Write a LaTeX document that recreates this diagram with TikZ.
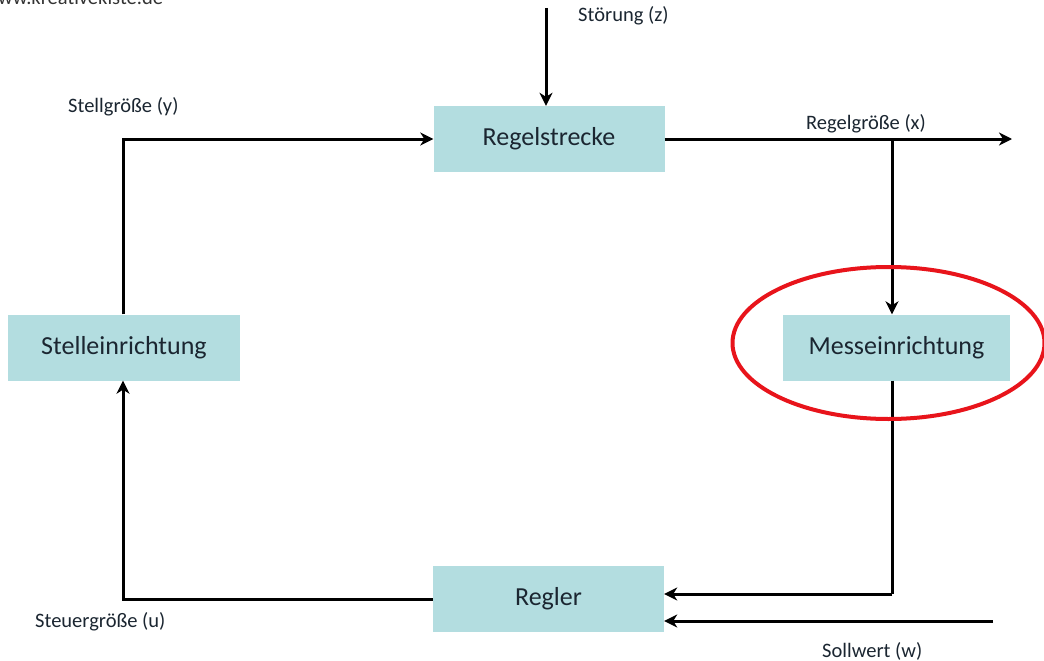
\documentclass[tikz,border=0pt]{standalone}
\usepackage{fontspec}
\setmainfont{Carlito}
\usetikzlibrary{arrows.meta}
\definecolor{boxfill}{HTML}{B3DDE0}
\definecolor{ink}{HTML}{1B2631}
\definecolor{ring}{HTML}{E8141B}
\tikzset{
  block/.style={fill=boxfill, draw=none, minimum width=231pt, minimum height=66pt,
    inner sep=0pt, text=ink, font=\fontsize{26}{30}\selectfont},
  lbl/.style={text=ink, font=\fontsize{20.5}{24}\selectfont, inner sep=0pt},
  flow/.style={line width=3pt, draw=black,
    -{Stealth[length=13pt,width=13pt,inset=4pt]}},
  plain/.style={line width=3pt, draw=black},
}
\begin{document}
\begin{tikzpicture}[x=1pt,y=-1pt]
\useasboundingbox (0,0) rectangle (1044,661);
\fill[white] (0,0) rectangle (1044,661);

% site mark, cut by the top edge
\node[lbl, anchor=base west, text=black!80] (site) at (-2,5) {ww.kreativekiste.de};

% blocks
\node[block] (strecke) at (549,139) {Regelstrecke};
\node[block, minimum width=232pt] (stell) at (124,347.5) {Stelleinrichtung};
\node[block, minimum width=227pt] (mess) at (896.5,347.5) {Messeinrichtung};
\node[block] (regler) at (548.5,599) {Regler};

% helper points
\coordinate (zin) at (546,8);
\coordinate (xout) at (1012,139);
\coordinate (branch) at (892,139);
\coordinate (wsrc) at (993,621);
\coordinate (fb) at (892,594);

% Stoergroesse
\draw[flow] (zin) -- (zin |- strecke.north);
% Stellgroesse
\draw[flow] (stell.north -| 123,0) |- (strecke.west);
% Regelgroesse
\draw[flow] (strecke.east) -- (xout);
\draw[flow] (branch) -- (branch |- mess.north);
% Rueckfuehrung
\draw[plain] (mess.south -| branch) -- (fb);
\draw[flow] (fb) -- (fb -| regler.east);
% Sollwert
\draw[flow] (wsrc) -- (wsrc -| regler.east);
% Steuergroesse
\draw[flow] (regler.west) -| (stell.south -| 123,0);

% labels
\node[lbl, anchor=west] (lz) at (578,16) {Störung (z)};
\node[lbl, anchor=west] (ly) at (68,107) {Stellgröße (y)};
\node[lbl, anchor=west] (lx) at (806,124) {Regelgröße (x)};
\node[lbl, anchor=west] (lu) at (35,622) {Steuergröße (u)};
\node[lbl, anchor=west] (lw) at (822,651) {Sollwert (w)};

% highlight ring
\draw[ring, line width=4pt] (888.5,343) ellipse [x radius=156pt, y radius=76pt];
\end{tikzpicture}
\end{document}
